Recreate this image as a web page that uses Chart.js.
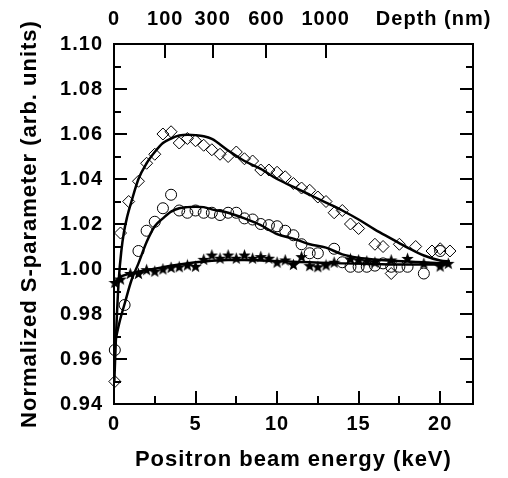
<!DOCTYPE html>
<html>
<head>
<meta charset="utf-8">
<script src="https://cdn.jsdelivr.net/npm/chart.js@4"></script>
<style>
  body { margin: 0; background: #fff; }
  #wrap { position: relative; width: 508px; height: 478px; }
  #wrap canvas { position: absolute; left: 0; top: 0; display: block; }
  #ticks { pointer-events: none; }
</style>
</head>
<body>
<div id="wrap">
  <canvas id="chart" width="508" height="478"></canvas>
  <canvas id="ticks" width="508" height="478"></canvas>
</div>
<script>
// measured points, energy in keV
const diamondE = [0.05, 0.4, 0.9, 1.5, 2.0, 2.5, 3.0, 3.5, 4.0, 4.5, 5.0, 5.5, 6.0, 6.5, 7.0, 7.5, 8.0, 8.5, 9.0, 9.5,
  10.0, 10.5, 11.0, 11.5, 12.0, 12.5, 13.0, 13.5, 14.0, 14.5, 15.0, 16.0, 16.5, 17.0, 17.5, 18.5, 19.5, 20.0, 20.6];
const diamondS = [0.950, 1.016, 1.030, 1.039, 1.047, 1.051, 1.060, 1.061, 1.056, 1.058, 1.057, 1.055, 1.053, 1.051, 1.050,
  1.052, 1.049, 1.048, 1.044, 1.044, 1.043, 1.041, 1.038, 1.036, 1.035, 1.032, 1.030, 1.025, 1.026, 1.020, 1.018,
  1.011, 1.010, 0.998, 1.011, 1.010, 1.008, 1.009, 1.008];

const circleE = [0.05, 0.65, 1.5, 2.0, 2.5, 3.0, 3.5, 4.0, 4.5, 5.0, 5.5, 6.0, 6.5, 7.0, 7.5, 8.0, 8.5, 9.0, 9.5, 10.0,
  10.5, 11.0, 11.5, 12.0, 12.5, 13.5, 14.0, 14.5, 15.0, 15.5, 16.0, 16.5, 17.0, 17.5, 18.0, 19.0, 20.0];
const circleS = [0.964, 0.984, 1.008, 1.017, 1.021, 1.027, 1.033, 1.026, 1.025, 1.026, 1.025, 1.025, 1.024, 1.025, 1.025,
  1.0225, 1.022, 1.020, 1.0195, 1.019, 1.017, 1.015, 1.011, 1.007, 1.007, 1.009, 1.003, 1.001, 1.001, 1.001, 1.0015,
  1.0025, 1.001, 1.001, 1.001, 0.998, 1.008];

const starE = [0.05, 0.4, 1.0, 1.5, 2.0, 2.5, 3.0, 3.5, 4.0, 4.5, 5.0, 5.5, 6.0, 6.5, 7.0, 7.5, 8.0, 8.5, 9.0, 9.5,
  10.0, 10.5, 11.0, 11.5, 12.0, 12.5, 13.0, 13.5, 14.5, 15.0, 15.5, 16.0, 17.0, 18.0, 19.0, 20.0, 20.5];
const starS = [0.994, 0.9955, 0.998, 0.998, 0.9997, 0.999, 1.000, 1.0007, 1.001, 1.0018, 1.0012, 1.0043, 1.0062, 1.0048,
  1.0062, 1.0048, 1.0062, 1.0048, 1.0055, 1.0048, 1.003, 1.004, 1.002, 1.0055, 1.0015, 1.001, 1.0018, 1.003, 1.0045,
  1.004, 1.0035, 1.003, 1.004, 1.0047, 1.0025, 1.0013, 1.0025];

// fitted curves
const diamondFitE = [0.02, 0.15, 0.3, 0.45, 0.6, 0.8, 1.07, 1.5, 2.0, 2.5, 3.0, 3.5, 4.0, 4.5, 5.0, 5.5, 6.0, 7.0, 8.0,
  9.0, 10.0, 11.0, 12.0, 13.0, 14.0, 15.0, 16.0, 17.0, 18.0, 19.0, 20.0, 20.6];
const diamondFitS = [0.950, 0.975, 0.996, 1.008, 1.016, 1.023, 1.030, 1.040, 1.047, 1.052, 1.056, 1.058, 1.0593, 1.0597,
  1.0595, 1.059, 1.0578, 1.0527, 1.048, 1.0445, 1.040, 1.0365, 1.033, 1.0295, 1.026, 1.022, 1.0175, 1.0135, 1.0095,
  1.006, 1.0038, 1.0033];

const circleFitE = [0.02, 0.36, 0.67, 1.07, 1.5, 2.0, 2.5, 3.0, 3.5, 4.0, 4.5, 5.0, 5.5, 6.0, 7.0, 8.0, 9.0, 10.0, 11.0,
  12.0, 13.0, 14.0, 15.0, 16.0, 17.0, 18.0, 19.0, 20.0, 20.6];
const circleFitS = [0.966, 0.977, 0.985, 0.995, 1.0025, 1.012, 1.019, 1.0225, 1.0255, 1.027, 1.0275, 1.0277, 1.0275,
  1.0265, 1.025, 1.0225, 1.0195, 1.0155, 1.0135, 1.011, 1.0095, 1.0065, 1.005, 1.0042, 1.0037, 1.0033, 1.003, 1.0026,
  1.0025];

const starFitE = [0.02, 0.3, 1.0, 2.0, 3.0, 4.0, 5.0, 6.0, 7.0, 8.0, 9.0, 10.0, 12.0, 14.0, 16.0, 18.0, 20.0, 20.6];
const starFitS = [0.993, 0.996, 0.998, 0.9995, 1.0008, 1.002, 1.003, 1.0037, 1.004, 1.004, 1.0038, 1.0035, 1.003,
  1.0025, 1.0022, 1.002, 1.002, 1.002];

// axes
const xMajor = [0, 5, 10, 15, 20];
const xMinor = [2.5, 7.5, 12.5, 17.5];
const yMajor = [0.94, 0.96, 0.98, 1.00, 1.02, 1.04, 1.06, 1.08, 1.10];
const yMinor = [0.95, 0.97, 0.99, 1.01, 1.03, 1.05, 1.07, 1.09];
const depthLabels = ['0', '100', '300', '600', '1000'];
const depthEnergy = [0, 3.14, 6.05, 9.34, 12.98];
const depthTitle = 'Depth (nm)';
const depthTitleEnergy = 19.6;

const pts = (xs, ys) => xs.map((x, i) => ({ x: x, y: ys[i] }));

function makeStar(size) {
  const c = document.createElement('canvas');
  c.width = c.height = size;
  const g = c.getContext('2d');
  const r1 = size / 2, r2 = r1 * 0.42;
  g.fillStyle = '#000';
  g.beginPath();
  for (let i = 0; i < 10; i++) {
    const r = i % 2 ? r2 : r1;
    const a = -Math.PI / 2 + i * Math.PI / 5;
    g.lineTo(r1 + r * Math.cos(a), r1 + 0.6 + r * Math.sin(a));
  }
  g.closePath();
  g.fill();
  return c;
}

const FONT = 'Liberation Sans, Arial, Helvetica, sans-serif';

const spacing = {
  id: 'spacing',
  beforeLayout(chart) { chart.ctx.letterSpacing = '1px'; },
  beforeDraw(chart) { chart.ctx.letterSpacing = '1px'; }
};

// tick marks point into the plot on all four sides; drawn on an overlay canvas
// at positions taken from the chart's own scales
function drawTicks(chart) {
  const ctx = document.getElementById('ticks').getContext('2d');
  const a = chart.chartArea;
  const x = chart.scales.x, y = chart.scales.y, x2 = chart.scales.x2;
  ctx.clearRect(0, 0, 508, 478);
  ctx.fillStyle = '#000';
  const hTick = (v, len) => {
    const py = Math.round(y.getPixelForValue(v));
    ctx.fillRect(Math.round(a.left), py - 1, len, 2);
    ctx.fillRect(Math.round(a.right) - len, py - 1, len, 2);
  };
  yMajor.forEach(v => hTick(v, 13));
  yMinor.forEach(v => hTick(v, 7));
  const vTick = (v, len) => {
    const px = Math.round(x.getPixelForValue(v));
    ctx.fillRect(px - 1, Math.round(a.bottom) - len, 2, len);
  };
  xMajor.forEach(v => vTick(v, 13));
  xMinor.forEach(v => vTick(v, 8));
  depthEnergy.forEach(v => {
    const px = Math.round(x2.getPixelForValue(v));
    ctx.fillRect(px - 1, Math.round(a.top), 2, 14);
  });
}

const tickFont = { family: FONT, size: 20, weight: 'bold' };
const titleFont = { family: FONT, size: 22, weight: 'bold' };
const border = { display: true, color: '#000', width: 2 };

const chart = new Chart(document.getElementById('chart'), {
  type: 'scatter',
  data: {
    datasets: [
      { data: pts(diamondFitE, diamondFitS), showLine: true, pointRadius: 0, borderColor: '#000',
        borderWidth: 2.5, cubicInterpolationMode: 'monotone' },
      { data: pts(circleFitE, circleFitS), showLine: true, pointRadius: 0, borderColor: '#000',
        borderWidth: 2.5, cubicInterpolationMode: 'monotone' },
      { data: pts(starFitE, starFitS), showLine: true, pointRadius: 0, borderColor: '#000',
        borderWidth: 2.5, cubicInterpolationMode: 'monotone' },
      { data: pts(diamondE, diamondS), pointStyle: 'rectRot', pointRadius: 6, borderWidth: 1,
        borderColor: '#000', backgroundColor: 'rgba(0,0,0,0)', clip: false },
      { data: pts(circleE, circleS), pointStyle: 'circle', pointRadius: 5.5, borderWidth: 1,
        borderColor: '#000', backgroundColor: 'rgba(0,0,0,0)', clip: false },
      { data: pts(starE, starS), pointStyle: makeStar(13), pointRadius: 6, clip: false }
    ]
  },
  options: {
    responsive: false,
    animation: false,
    devicePixelRatio: 1,
    layout: { padding: 0 },
    plugins: { legend: { display: false }, tooltip: { enabled: false } },
    scales: {
      x: {
        type: 'linear', position: 'bottom', min: 0, max: 22,
        afterBuildTicks: s => { s.ticks = xMajor.map(v => ({ value: v })); },
        afterFit: s => { s.height = 74; },
        grid: { display: false, drawTicks: false },
        border: border,
        ticks: { font: tickFont, color: '#000', padding: 8, maxRotation: 0, autoSkip: false },
        title: { display: true, text: 'Positron beam energy (keV)', font: titleFont, color: '#000',
          padding: { top: 0, bottom: 5 } }
      },
      x2: {
        type: 'linear', position: 'top', min: 0, max: 22,
        afterBuildTicks: s => {
          s.ticks = depthEnergy.map(v => ({ value: v })).concat([{ value: depthTitleEnergy }]);
        },
        afterFit: s => { s.height = 44; },
        grid: { display: false, drawTicks: false },
        border: border,
        ticks: {
          font: tickFont, color: '#000', padding: 13, maxRotation: 0, autoSkip: false,
          callback: (v, i) => i < depthLabels.length ? depthLabels[i] : depthTitle
        }
      },
      y: {
        type: 'linear', position: 'left', min: 0.94, max: 1.10,
        afterBuildTicks: s => { s.ticks = yMajor.map(v => ({ value: v })); },
        afterFit: s => { s.width = 114; },
        grid: { display: false, drawTicks: false },
        border: border,
        ticks: { font: tickFont, color: '#000', padding: 11, autoSkip: false,
          callback: v => v.toFixed(2) },
        title: { display: true, text: 'Normalized S-parameter (arb. units)', font: titleFont, color: '#000',
          padding: { top: 17, bottom: 0 } }
      },
      y2: {
        type: 'linear', position: 'right', min: 0.94, max: 1.10,
        afterFit: s => { s.width = 33; },
        grid: { display: false, drawTicks: false },
        border: border,
        ticks: { display: false }
      }
    }
  },
  plugins: [spacing]
});

drawTicks(chart);
</script>
</body>
</html>
